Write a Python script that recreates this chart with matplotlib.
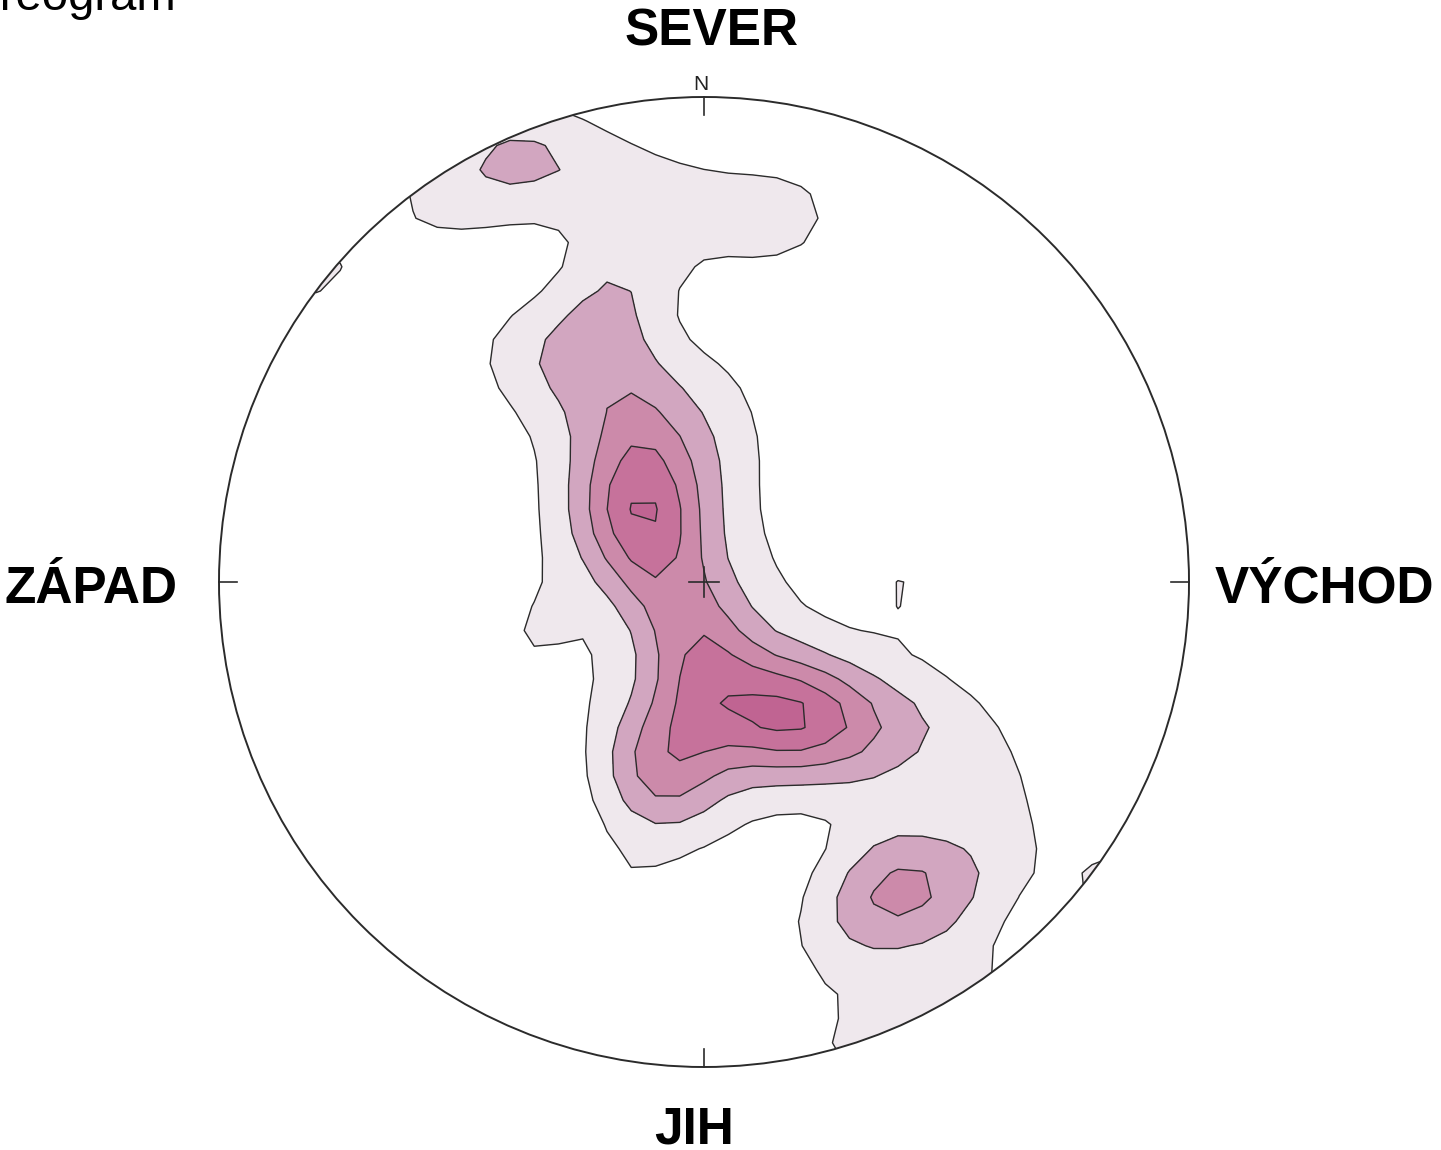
import numpy as np
import matplotlib
matplotlib.use("Agg")
import matplotlib.pyplot as plt
from matplotlib.patches import Circle

# ---- data: projected pole positions (unit net radius) and counts ----
ridge_x = [-0.19, -0.24, -0.22, -0.15, -0.13, -0.13, -0.13, -0.11, -0.08]
ridge_y = [0.58, 0.50, 0.45, 0.38, 0.30, 0.22, 0.14, 0.06, -0.02]
ridge_n = [0.75, 0.80, 0.85, 0.75, 1.15, 1.50, 2.42, 1.50, 1.15]

lower_x = [-0.02, 0.00, 0.00, -0.06, -0.10, 0.08, 0.16, 0.24, 0.32, 0.40]
lower_y = [-0.10, -0.17, -0.25, -0.33, -0.41, -0.26, -0.275, -0.285, -0.30, -0.33]
lower_n = [1.50, 1.40, 1.00, 1.60, 2.05, 1.10, 2.70, 1.60, 1.00, 0.45]

base_x = [-0.36, -0.30, -0.29, -0.28, -0.36, -0.22, -0.20, 0.00, 0.12,
          0.05, 0.06, 0.06, 0.12, 0.20, -0.05, 0.02, -0.40, -0.15, -0.15]
base_y = [0.45, 0.32, 0.18, 0.04, -0.11, -0.24, -0.38, -0.50, -0.44,
          0.42, 0.28, 0.12, 0.00, -0.10, 0.40, 0.25, 0.48, 0.64, 0.68]
base_n = [0.55, 0.50, 0.50, 0.50, 0.90, 0.45, 0.10, 0.45, 0.40,
          0.45, 0.55, 0.55, 0.50, 0.40, 0.45, 0.35, 0.55, 0.45, 0.50]

arm_x = [-0.60, -0.50, -0.43, -0.34, -0.24, -0.14, -0.04, 0.07, 0.21, 0.14]
arm_y = [0.77, 0.80, 0.88, 0.87, 0.86, 0.82, 0.78, 0.76, 0.77, 0.72]
arm_n = [0.60, 0.60, 1.10, 1.05, 0.65, 0.60, 0.60, 0.70, 0.70, 0.40]

lobe_x = [0.32, 0.44, 0.50, 0.57, 0.61, 0.63, 0.60, 0.36, 0.30, 0.30, 0.46, 0.55, 0.22]
lobe_y = [-0.24, -0.28, -0.27, -0.34, -0.42, -0.52, -0.62, -0.46, -0.76, -0.97, -0.90, -0.84, -0.73]
lobe_n = [0.40, 0.45, 0.50, 0.50, 0.50, 0.50, 0.40, 0.55, 0.50, 1.00, 0.50, 0.90, 0.45]

se_x = [0.34, 0.42, 0.51]
se_y = [-0.65, -0.64, -0.61]
se_n = [1.30, 1.65, 1.00]

iso_x = [0.42, -0.17, -0.80, 0.86]
iso_y = [-0.01, -0.64, 0.64, -0.63]
iso_n = [1.00, 0.78, 1.12, 1.30]

pole_x = ridge_x + lower_x + base_x + arm_x + lobe_x + se_x + iso_x
pole_y = ridge_y + lower_y + base_y + arm_y + lobe_y + se_y + iso_y
pole_n = ridge_n + lower_n + base_n + arm_n + lobe_n + se_n + iso_n

levels = [1, 2, 3, 4, 5]
fill_colors = ["#EFE8ED", "#D2A6C0", "#CC8AAA", "#C6729B", "#C06492"]
kernel_sigma = 0.09

direction_labels = ["SEVER", "JIH", "ZÁPAD", "VÝCHOD"]
title_text = "Stereogram"

# ---- density grid ----
g = np.linspace(-1.05, 1.05, 43)
X, Y = np.meshgrid(g, g)
D = np.zeros_like(X)
for px, py, n in zip(pole_x, pole_y, pole_n):
    D += n * np.exp(-((X - px) ** 2 + (Y - py) ** 2) / (2 * kernel_sigma ** 2))

# ---- figure ----
W, H, CX, CY, R = 1441, 1150, 704, 582, 485
fig = plt.figure(figsize=(W / 100, H / 100), dpi=100)
ax = fig.add_axes([0, 0, 1, 1])
ax.set_xlim(-CX / R, (W - CX) / R)
ax.set_ylim((CY - H) / R, CY / R)
ax.axis("off")

def px2d(px, py):
    return (px - CX) / R, (CY - py) / R

clip = Circle((0, 0), 1, transform=ax.transData)
cf = ax.contourf(X, Y, D, levels=levels + [max(D.max(), levels[-1]) + 1], colors=fill_colors)
cf.set_clip_path(clip)
cs = ax.contour(X, Y, D, levels=levels, colors="#2b2b2b", linewidths=1.0)
cs.set_clip_path(clip)

ec = "#2b2b2b"
ax.add_patch(Circle((0, 0), 1, fill=False, ec=ec, lw=1.4, zorder=5))
t = 18 / R
for ang in [0, 90, 180, 270]:
    a = np.deg2rad(ang)
    ax.plot([np.cos(a), (1 - t) * np.cos(a)], [np.sin(a), (1 - t) * np.sin(a)], color=ec, lw=1.2, zorder=5)
c = 15 / R
ax.plot([-c, c], [0, 0], color=ec, lw=1.2, zorder=5)
ax.plot([0, 0], [-c, c], color=ec, lw=1.2, zorder=5)

ax.text(*px2d(701, 85), "N", ha="center", va="center", fontsize=15,
        family="Liberation Sans", color="#222222")

lab_kw = dict(fontsize=37, fontweight="bold", family="Liberation Sans", color="black", va="baseline")
ax.text(*px2d(712, 45), direction_labels[0], ha="center", **lab_kw)
ax.text(*px2d(694, 1144), direction_labels[1], ha="center", **lab_kw)
ax.text(*px2d(178, 603), direction_labels[2], ha="right", **lab_kw)
ax.text(*px2d(1215, 603), direction_labels[3], ha="left", **lab_kw)

fig.text(-70 / W, (H - 10) / H, title_text, fontsize=34, family="Liberation Sans",
         ha="left", va="baseline", color="black")

fig.savefig("out.png", dpi=100)
